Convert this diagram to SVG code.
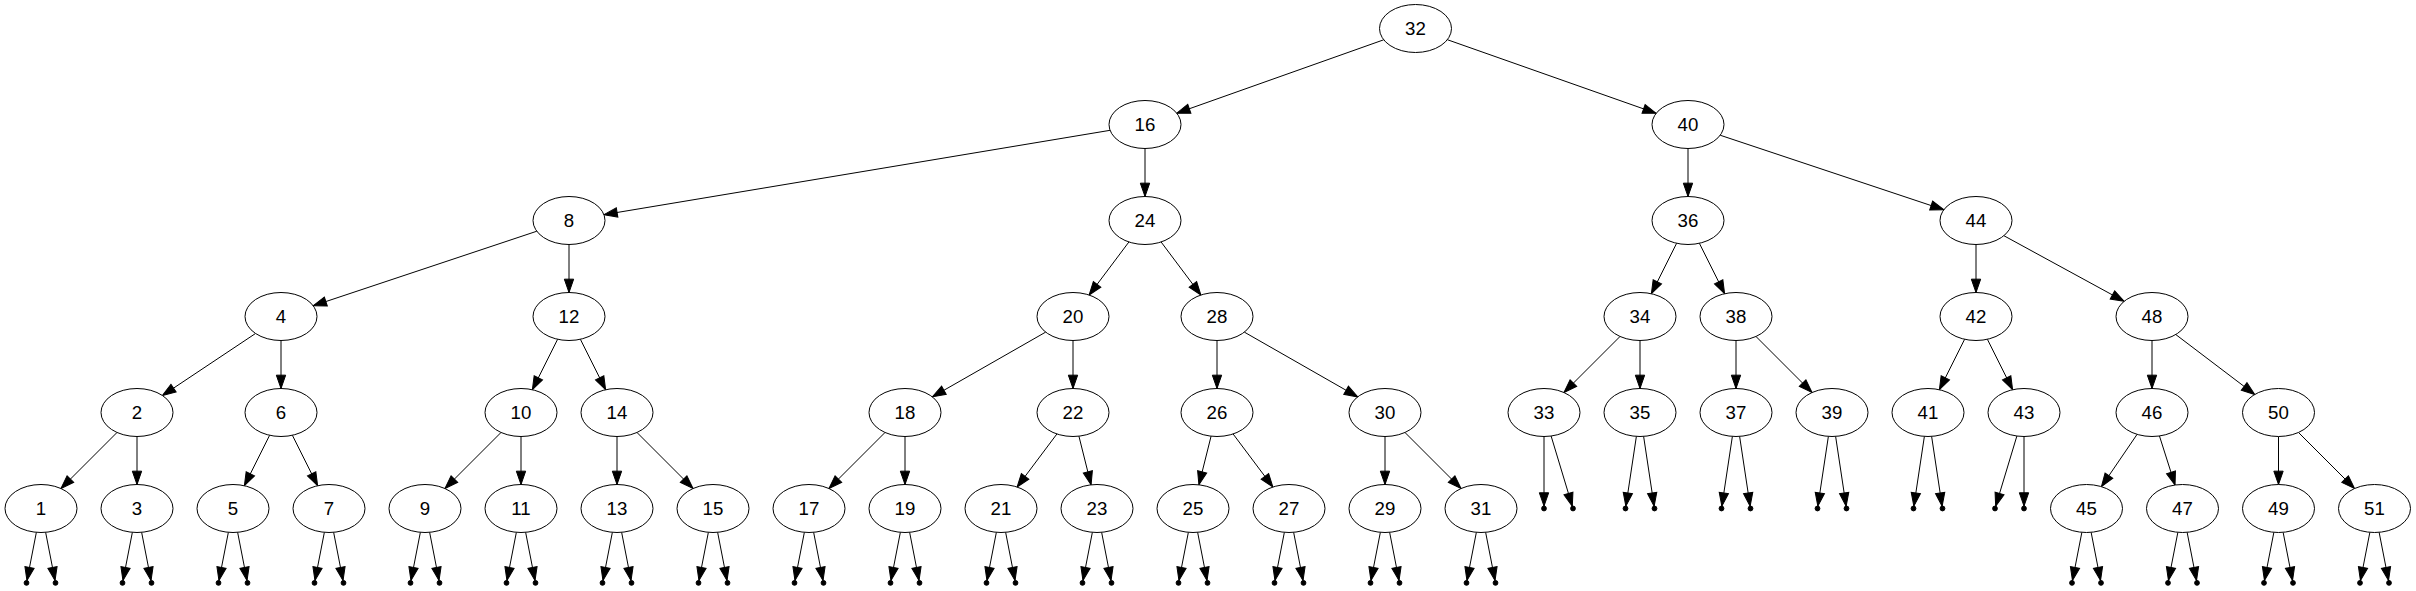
<svg xmlns="http://www.w3.org/2000/svg" width="2416" height="591" viewBox="0 0 2416 591">
<style>
.n ellipse{fill:#fff;stroke:#000;stroke-width:1}
.n text{font-family:"Liberation Sans",Arial,sans-serif;font-size:18.67px;text-anchor:middle;fill:#000}
.e line{stroke:#000;stroke-width:1;fill:none;marker-end:url(#ah)}
.p circle{fill:#000;stroke:#000;stroke-width:1}
</style>
<defs>
<marker id="ah" markerUnits="userSpaceOnUse" orient="auto" refX="0" refY="0" markerWidth="20" markerHeight="20" overflow="visible">
<path d="M0,0 L-13.33,-4.67 L-13.33,4.67 Z" fill="#000" stroke="#000" stroke-width="1"/>
</marker>
</defs>
<rect width="2416" height="591" fill="#fff"/>
<g id="connectors" class="e">
<line x1="1383.74" y1="39.79" x2="1176.76" y2="113.21"/>
<line x1="1447.34" y1="39.70" x2="1656.16" y2="113.30"/>
<line x1="1110.07" y1="130.32" x2="603.93" y2="214.68"/>
<line x1="1145" y1="148.5" x2="1145" y2="196.5"/>
<line x1="1688" y1="148.5" x2="1688" y2="196.5"/>
<line x1="1720.20" y1="135.23" x2="1943.80" y2="209.77"/>
<line x1="536.80" y1="231.23" x2="313.20" y2="305.77"/>
<line x1="569" y1="244.5" x2="569" y2="292.5"/>
<line x1="1128.90" y1="241.97" x2="1089.10" y2="295.03"/>
<line x1="1161.10" y1="241.97" x2="1200.90" y2="295.03"/>
<line x1="1676.62" y1="243.27" x2="1651.38" y2="293.73"/>
<line x1="1699.38" y1="243.27" x2="1724.62" y2="293.73"/>
<line x1="1976" y1="244.5" x2="1976" y2="292.5"/>
<line x1="2003.86" y1="235.70" x2="2124.14" y2="301.30"/>
<line x1="255.54" y1="333.47" x2="162.46" y2="395.53"/>
<line x1="281" y1="340.5" x2="281" y2="388.5"/>
<line x1="557.62" y1="339.27" x2="532.38" y2="389.73"/>
<line x1="580.38" y1="339.27" x2="605.62" y2="389.73"/>
<line x1="1045.67" y1="332.12" x2="932.33" y2="396.88"/>
<line x1="1073" y1="340.5" x2="1073" y2="388.5"/>
<line x1="1217" y1="340.5" x2="1217" y2="388.5"/>
<line x1="1244.33" y1="332.12" x2="1357.67" y2="396.88"/>
<line x1="1620.03" y1="336.47" x2="1563.97" y2="392.53"/>
<line x1="1640" y1="340.5" x2="1640" y2="388.5"/>
<line x1="1736" y1="340.5" x2="1736" y2="388.5"/>
<line x1="1755.97" y1="336.47" x2="1812.03" y2="392.53"/>
<line x1="1964.62" y1="339.27" x2="1939.38" y2="389.73"/>
<line x1="1987.38" y1="339.27" x2="2012.62" y2="389.73"/>
<line x1="2152" y1="340.5" x2="2152" y2="388.5"/>
<line x1="2175.76" y1="334.53" x2="2254.74" y2="394.47"/>
<line x1="117.03" y1="432.47" x2="60.97" y2="488.53"/>
<line x1="137" y1="436.5" x2="137" y2="484.5"/>
<line x1="269.62" y1="435.27" x2="244.38" y2="485.73"/>
<line x1="292.38" y1="435.27" x2="317.62" y2="485.73"/>
<line x1="501.03" y1="432.47" x2="444.97" y2="488.53"/>
<line x1="521" y1="436.5" x2="521" y2="484.5"/>
<line x1="617" y1="436.5" x2="617" y2="484.5"/>
<line x1="636.97" y1="432.47" x2="693.03" y2="488.53"/>
<line x1="885.03" y1="432.47" x2="828.97" y2="488.53"/>
<line x1="905" y1="436.5" x2="905" y2="484.5"/>
<line x1="1056.90" y1="433.97" x2="1017.10" y2="487.03"/>
<line x1="1078.92" y1="436.17" x2="1091.08" y2="484.83"/>
<line x1="1211.08" y1="436.17" x2="1198.92" y2="484.83"/>
<line x1="1233.10" y1="433.97" x2="1272.90" y2="487.03"/>
<line x1="1385" y1="436.5" x2="1385" y2="484.5"/>
<line x1="1404.97" y1="432.47" x2="1461.03" y2="488.53"/>
<line x1="2137.09" y1="434.35" x2="2101.41" y2="486.65"/>
<line x1="2159.46" y1="435.98" x2="2175.04" y2="485.02"/>
<line x1="2278.5" y1="436.5" x2="2278.5" y2="484.5"/>
<line x1="2298.47" y1="432.47" x2="2354.53" y2="488.53"/>
<line x1="1544" y1="436.5" x2="1544" y2="506.1"/>
<line x1="1551.11" y1="436.03" x2="1572.31" y2="506.2"/>
<line x1="1636.39" y1="436.38" x2="1625.86" y2="506.13"/>
<line x1="1643.61" y1="436.38" x2="1654.14" y2="506.13"/>
<line x1="1732.39" y1="436.38" x2="1721.86" y2="506.13"/>
<line x1="1739.61" y1="436.38" x2="1750.14" y2="506.13"/>
<line x1="1828.39" y1="436.38" x2="1817.86" y2="506.13"/>
<line x1="1835.61" y1="436.38" x2="1846.14" y2="506.13"/>
<line x1="1924.39" y1="436.38" x2="1913.86" y2="506.13"/>
<line x1="1931.61" y1="436.38" x2="1942.14" y2="506.13"/>
<line x1="2016.89" y1="436.03" x2="1995.69" y2="506.2"/>
<line x1="2024" y1="436.5" x2="2024" y2="506.1"/>
<line x1="36.36" y1="532.3" x2="26.96" y2="580.54"/>
<line x1="45.64" y1="532.3" x2="55.04" y2="580.54"/>
<line x1="132.36" y1="532.3" x2="122.96" y2="580.54"/>
<line x1="141.64" y1="532.3" x2="151.04" y2="580.54"/>
<line x1="228.36" y1="532.3" x2="218.96" y2="580.54"/>
<line x1="237.64" y1="532.3" x2="247.04" y2="580.54"/>
<line x1="324.36" y1="532.3" x2="314.96" y2="580.54"/>
<line x1="333.64" y1="532.3" x2="343.04" y2="580.54"/>
<line x1="420.36" y1="532.3" x2="410.96" y2="580.54"/>
<line x1="429.64" y1="532.3" x2="439.04" y2="580.54"/>
<line x1="516.36" y1="532.3" x2="506.96" y2="580.54"/>
<line x1="525.64" y1="532.3" x2="535.04" y2="580.54"/>
<line x1="612.36" y1="532.3" x2="602.96" y2="580.54"/>
<line x1="621.64" y1="532.3" x2="631.04" y2="580.54"/>
<line x1="708.36" y1="532.3" x2="698.96" y2="580.54"/>
<line x1="717.64" y1="532.3" x2="727.04" y2="580.54"/>
<line x1="804.36" y1="532.3" x2="794.96" y2="580.54"/>
<line x1="813.64" y1="532.3" x2="823.04" y2="580.54"/>
<line x1="900.36" y1="532.3" x2="890.96" y2="580.54"/>
<line x1="909.64" y1="532.3" x2="919.04" y2="580.54"/>
<line x1="996.36" y1="532.3" x2="986.96" y2="580.54"/>
<line x1="1005.64" y1="532.3" x2="1015.04" y2="580.54"/>
<line x1="1092.36" y1="532.3" x2="1082.96" y2="580.54"/>
<line x1="1101.64" y1="532.3" x2="1111.04" y2="580.54"/>
<line x1="1188.36" y1="532.3" x2="1178.96" y2="580.54"/>
<line x1="1197.64" y1="532.3" x2="1207.04" y2="580.54"/>
<line x1="1284.36" y1="532.3" x2="1274.96" y2="580.54"/>
<line x1="1293.64" y1="532.3" x2="1303.04" y2="580.54"/>
<line x1="1380.36" y1="532.3" x2="1370.96" y2="580.54"/>
<line x1="1389.64" y1="532.3" x2="1399.04" y2="580.54"/>
<line x1="1476.36" y1="532.3" x2="1466.96" y2="580.54"/>
<line x1="1485.64" y1="532.3" x2="1495.04" y2="580.54"/>
<line x1="2081.86" y1="532.3" x2="2072.46" y2="580.54"/>
<line x1="2091.14" y1="532.3" x2="2100.54" y2="580.54"/>
<line x1="2177.86" y1="532.3" x2="2168.46" y2="580.54"/>
<line x1="2187.14" y1="532.3" x2="2196.54" y2="580.54"/>
<line x1="2273.86" y1="532.3" x2="2264.46" y2="580.54"/>
<line x1="2283.14" y1="532.3" x2="2292.54" y2="580.54"/>
<line x1="2369.86" y1="532.3" x2="2360.46" y2="580.54"/>
<line x1="2379.14" y1="532.3" x2="2388.54" y2="580.54"/>
</g>
<g id="nodes" class="n">
<g id="n32"><ellipse cx="1415.5" cy="28.5" rx="36" ry="24"/><text x="1415.5" y="34.5">32</text></g>
<g id="n16"><ellipse cx="1145" cy="124.5" rx="36" ry="24"/><text x="1145" y="130.5">16</text></g>
<g id="n40"><ellipse cx="1688" cy="124.5" rx="36" ry="24"/><text x="1688" y="130.5">40</text></g>
<g id="n8"><ellipse cx="569" cy="220.5" rx="36" ry="24"/><text x="569" y="226.5">8</text></g>
<g id="n24"><ellipse cx="1145" cy="220.5" rx="36" ry="24"/><text x="1145" y="226.5">24</text></g>
<g id="n36"><ellipse cx="1688" cy="220.5" rx="36" ry="24"/><text x="1688" y="226.5">36</text></g>
<g id="n44"><ellipse cx="1976" cy="220.5" rx="36" ry="24"/><text x="1976" y="226.5">44</text></g>
<g id="n4"><ellipse cx="281" cy="316.5" rx="36" ry="24"/><text x="281" y="322.5">4</text></g>
<g id="n12"><ellipse cx="569" cy="316.5" rx="36" ry="24"/><text x="569" y="322.5">12</text></g>
<g id="n20"><ellipse cx="1073" cy="316.5" rx="36" ry="24"/><text x="1073" y="322.5">20</text></g>
<g id="n28"><ellipse cx="1217" cy="316.5" rx="36" ry="24"/><text x="1217" y="322.5">28</text></g>
<g id="n34"><ellipse cx="1640" cy="316.5" rx="36" ry="24"/><text x="1640" y="322.5">34</text></g>
<g id="n38"><ellipse cx="1736" cy="316.5" rx="36" ry="24"/><text x="1736" y="322.5">38</text></g>
<g id="n42"><ellipse cx="1976" cy="316.5" rx="36" ry="24"/><text x="1976" y="322.5">42</text></g>
<g id="n48"><ellipse cx="2152" cy="316.5" rx="36" ry="24"/><text x="2152" y="322.5">48</text></g>
<g id="n2"><ellipse cx="137" cy="412.5" rx="36" ry="24"/><text x="137" y="418.5">2</text></g>
<g id="n6"><ellipse cx="281" cy="412.5" rx="36" ry="24"/><text x="281" y="418.5">6</text></g>
<g id="n10"><ellipse cx="521" cy="412.5" rx="36" ry="24"/><text x="521" y="418.5">10</text></g>
<g id="n14"><ellipse cx="617" cy="412.5" rx="36" ry="24"/><text x="617" y="418.5">14</text></g>
<g id="n18"><ellipse cx="905" cy="412.5" rx="36" ry="24"/><text x="905" y="418.5">18</text></g>
<g id="n22"><ellipse cx="1073" cy="412.5" rx="36" ry="24"/><text x="1073" y="418.5">22</text></g>
<g id="n26"><ellipse cx="1217" cy="412.5" rx="36" ry="24"/><text x="1217" y="418.5">26</text></g>
<g id="n30"><ellipse cx="1385" cy="412.5" rx="36" ry="24"/><text x="1385" y="418.5">30</text></g>
<g id="n33"><ellipse cx="1544" cy="412.5" rx="36" ry="24"/><text x="1544" y="418.5">33</text></g>
<g id="n35"><ellipse cx="1640" cy="412.5" rx="36" ry="24"/><text x="1640" y="418.5">35</text></g>
<g id="n37"><ellipse cx="1736" cy="412.5" rx="36" ry="24"/><text x="1736" y="418.5">37</text></g>
<g id="n39"><ellipse cx="1832" cy="412.5" rx="36" ry="24"/><text x="1832" y="418.5">39</text></g>
<g id="n41"><ellipse cx="1928" cy="412.5" rx="36" ry="24"/><text x="1928" y="418.5">41</text></g>
<g id="n43"><ellipse cx="2024" cy="412.5" rx="36" ry="24"/><text x="2024" y="418.5">43</text></g>
<g id="n46"><ellipse cx="2152" cy="412.5" rx="36" ry="24"/><text x="2152" y="418.5">46</text></g>
<g id="n50"><ellipse cx="2278.5" cy="412.5" rx="36" ry="24"/><text x="2278.5" y="418.5">50</text></g>
<g id="n1"><ellipse cx="41" cy="508.5" rx="36" ry="24"/><text x="41" y="514.5">1</text></g>
<g id="n3"><ellipse cx="137" cy="508.5" rx="36" ry="24"/><text x="137" y="514.5">3</text></g>
<g id="n5"><ellipse cx="233" cy="508.5" rx="36" ry="24"/><text x="233" y="514.5">5</text></g>
<g id="n7"><ellipse cx="329" cy="508.5" rx="36" ry="24"/><text x="329" y="514.5">7</text></g>
<g id="n9"><ellipse cx="425" cy="508.5" rx="36" ry="24"/><text x="425" y="514.5">9</text></g>
<g id="n11"><ellipse cx="521" cy="508.5" rx="36" ry="24"/><text x="521" y="514.5">11</text></g>
<g id="n13"><ellipse cx="617" cy="508.5" rx="36" ry="24"/><text x="617" y="514.5">13</text></g>
<g id="n15"><ellipse cx="713" cy="508.5" rx="36" ry="24"/><text x="713" y="514.5">15</text></g>
<g id="n17"><ellipse cx="809" cy="508.5" rx="36" ry="24"/><text x="809" y="514.5">17</text></g>
<g id="n19"><ellipse cx="905" cy="508.5" rx="36" ry="24"/><text x="905" y="514.5">19</text></g>
<g id="n21"><ellipse cx="1001" cy="508.5" rx="36" ry="24"/><text x="1001" y="514.5">21</text></g>
<g id="n23"><ellipse cx="1097" cy="508.5" rx="36" ry="24"/><text x="1097" y="514.5">23</text></g>
<g id="n25"><ellipse cx="1193" cy="508.5" rx="36" ry="24"/><text x="1193" y="514.5">25</text></g>
<g id="n27"><ellipse cx="1289" cy="508.5" rx="36" ry="24"/><text x="1289" y="514.5">27</text></g>
<g id="n29"><ellipse cx="1385" cy="508.5" rx="36" ry="24"/><text x="1385" y="514.5">29</text></g>
<g id="n31"><ellipse cx="1481" cy="508.5" rx="36" ry="24"/><text x="1481" y="514.5">31</text></g>
<g id="n45"><ellipse cx="2086.5" cy="508.5" rx="36" ry="24"/><text x="2086.5" y="514.5">45</text></g>
<g id="n47"><ellipse cx="2182.5" cy="508.5" rx="36" ry="24"/><text x="2182.5" y="514.5">47</text></g>
<g id="n49"><ellipse cx="2278.5" cy="508.5" rx="36" ry="24"/><text x="2278.5" y="514.5">49</text></g>
<g id="n51"><ellipse cx="2374.5" cy="508.5" rx="36" ry="24"/><text x="2374.5" y="514.5">51</text></g>
</g>
<g id="null-points" class="p">
<circle cx="1544" cy="508.5" r="2.4"/><circle cx="1573" cy="508.5" r="2.4"/>
<circle cx="1625.5" cy="508.5" r="2.4"/><circle cx="1654.5" cy="508.5" r="2.4"/>
<circle cx="1721.5" cy="508.5" r="2.4"/><circle cx="1750.5" cy="508.5" r="2.4"/>
<circle cx="1817.5" cy="508.5" r="2.4"/><circle cx="1846.5" cy="508.5" r="2.4"/>
<circle cx="1913.5" cy="508.5" r="2.4"/><circle cx="1942.5" cy="508.5" r="2.4"/>
<circle cx="1995" cy="508.5" r="2.4"/><circle cx="2024" cy="508.5" r="2.4"/>
<circle cx="26.5" cy="582.9" r="2.4"/><circle cx="55.5" cy="582.9" r="2.4"/>
<circle cx="122.5" cy="582.9" r="2.4"/><circle cx="151.5" cy="582.9" r="2.4"/>
<circle cx="218.5" cy="582.9" r="2.4"/><circle cx="247.5" cy="582.9" r="2.4"/>
<circle cx="314.5" cy="582.9" r="2.4"/><circle cx="343.5" cy="582.9" r="2.4"/>
<circle cx="410.5" cy="582.9" r="2.4"/><circle cx="439.5" cy="582.9" r="2.4"/>
<circle cx="506.5" cy="582.9" r="2.4"/><circle cx="535.5" cy="582.9" r="2.4"/>
<circle cx="602.5" cy="582.9" r="2.4"/><circle cx="631.5" cy="582.9" r="2.4"/>
<circle cx="698.5" cy="582.9" r="2.4"/><circle cx="727.5" cy="582.9" r="2.4"/>
<circle cx="794.5" cy="582.9" r="2.4"/><circle cx="823.5" cy="582.9" r="2.4"/>
<circle cx="890.5" cy="582.9" r="2.4"/><circle cx="919.5" cy="582.9" r="2.4"/>
<circle cx="986.5" cy="582.9" r="2.4"/><circle cx="1015.5" cy="582.9" r="2.4"/>
<circle cx="1082.5" cy="582.9" r="2.4"/><circle cx="1111.5" cy="582.9" r="2.4"/>
<circle cx="1178.5" cy="582.9" r="2.4"/><circle cx="1207.5" cy="582.9" r="2.4"/>
<circle cx="1274.5" cy="582.9" r="2.4"/><circle cx="1303.5" cy="582.9" r="2.4"/>
<circle cx="1370.5" cy="582.9" r="2.4"/><circle cx="1399.5" cy="582.9" r="2.4"/>
<circle cx="1466.5" cy="582.9" r="2.4"/><circle cx="1495.5" cy="582.9" r="2.4"/>
<circle cx="2072" cy="582.9" r="2.4"/><circle cx="2101" cy="582.9" r="2.4"/>
<circle cx="2168" cy="582.9" r="2.4"/><circle cx="2197" cy="582.9" r="2.4"/>
<circle cx="2264" cy="582.9" r="2.4"/><circle cx="2293" cy="582.9" r="2.4"/>
<circle cx="2360" cy="582.9" r="2.4"/><circle cx="2389" cy="582.9" r="2.4"/>
</g>
</svg>
